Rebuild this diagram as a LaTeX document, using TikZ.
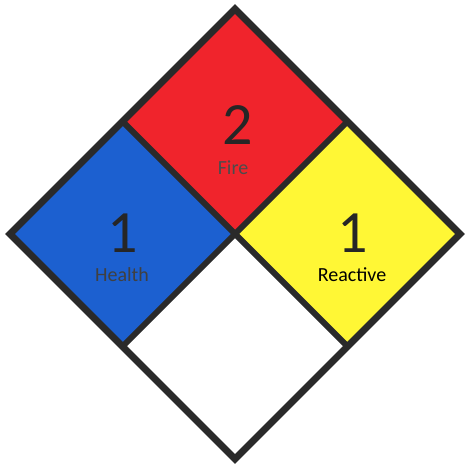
\documentclass[tikz,border=0pt]{standalone}
\usepackage{fontspec}
\setmainfont{Carlito}
\definecolor{nfpablue}{HTML}{1C60D0}
\definecolor{nfpared}{HTML}{F0242C}
\definecolor{nfpayellow}{HTML}{FFF735}
\definecolor{nfpaline}{HTML}{2A2A2A}
\begin{document}
\begin{tikzpicture}[x=1pt,y=1pt,
  border/.style={draw=nfpaline,line width=7pt,line join=miter},
  inner/.style={draw=nfpaline,line width=6pt},
  digit/.style={font=\fontsize{60}{60}\selectfont,text=black!85,inner sep=0pt},
  label/.style={font=\fontsize{20}{20}\selectfont,inner sep=0pt,anchor=base}]
\useasboundingbox (0,0) rectangle (464,468);
% key points (image y flipped: y = 468 - y_img)
\coordinate (C) at (235,234);
\coordinate (T) at (235,459);
\coordinate (B) at (235,9);
\coordinate (L) at (10,234);
\coordinate (R) at (460,234);
\coordinate (TL) at (122.5,346.5);
\coordinate (TR) at (347.5,346.5);
\coordinate (BL) at (122.5,121.5);
\coordinate (BR) at (347.5,121.5);
% quadrants
\fill[nfpared] (T) -- (TR) -- (C) -- (TL) -- cycle;
\fill[nfpablue] (TL) -- (C) -- (BL) -- (L) -- cycle;
\fill[nfpayellow] (TR) -- (R) -- (BR) -- (C) -- cycle;
\fill[white] (C) -- (BR) -- (B) -- (BL) -- cycle;
% dividing lines
\draw[inner] (TL) -- (BR);
\draw[inner] (TR) -- (BL);
% outer border
\draw[border] (T) -- (R) -- (B) -- (L) -- cycle;
% texts
\node[digit] (firenum) at (238,343) {2};
\node[label,text=black!70] (firelbl) at (233,293) {Fire};
\node[digit] (healthnum) at (123,235) {1};
\node[label,text=black!75] (healthlbl) at (122,186) {Health};
\node[digit] (reactnum) at (353,235) {1};
\node[label,text=black] (reactlbl) at (352,186) {Reactive};
\end{tikzpicture}
\end{document}
